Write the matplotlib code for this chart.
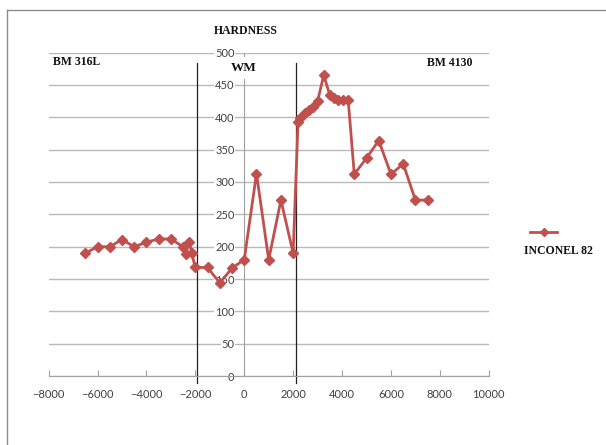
import matplotlib
matplotlib.use("Agg")
import matplotlib.pyplot as plt

# distance (x) vs hardness (y)
distance = [-6500, -6000, -5500, -5000, -4500, -4000, -3500, -3000,
            -2500, -2400, -2250, -2150, -2000, -1500, -1000, -500, 0,
            500, 1000, 1500, 2000, 2200, 2300, 2500, 2650, 2800, 3000,
            3250, 3500, 3650, 3850, 4050, 4250, 4500, 5000, 5500, 6000,
            6500, 7000, 7500]
hardness = [190, 200, 200, 211, 200, 207, 212, 212,
            200, 189, 208, 190, 168, 168, 144, 167, 180,
            313, 180, 272, 190, 393, 399, 406, 411, 416, 425,
            465, 434, 430, 427, 427, 427, 312, 337, 364, 312,
            328, 272, 272]
zone_lines = [-1950, 2100]
x_ticks = list(range(-8000, 10001, 2000))
y_ticks = list(range(0, 501, 50))

red = "#C0504D"
grid_c = "#B9B9B9"
txt_c = "#404040"
serif_bold = dict(family="Liberation Serif", weight="bold", fontsize=8.5, color="#111111")

fig = plt.figure(figsize=(6.06, 4.45), dpi=100, facecolor="white")
ax = fig.add_axes([0.0802, 0.1546, 0.8066 - 0.0802, 0.882 - 0.1546])

# outer chart border (only top and left edges fall inside the picture)
bx, by = 7 / 606, 1 - 10 / 445
fig.lines.append(plt.Line2D([bx, 1.0], [by, by], transform=fig.transFigure,
                            color="#8c8c8c", linewidth=1.0))
fig.lines.append(plt.Line2D([bx, bx], [by, 0.0], transform=fig.transFigure,
                            color="#8c8c8c", linewidth=1.0))

ax.set_xlim(-8000, 10000)
ax.set_ylim(0, 500)
ax.set_xticks(x_ticks)
ax.set_yticks(y_ticks)
ax.yaxis.grid(True, color=grid_c, linewidth=1.0)
ax.set_axisbelow(True)

for s in ("top", "right"):
    ax.spines[s].set_visible(False)
ax.spines["left"].set_position(("data", 0))
ax.spines["left"].set_color("#A0A0A0")
ax.spines["bottom"].set_color("#A0A0A0")

ax.tick_params(axis="x", direction="in", length=4, color="#A0A0A0",
               labelsize=8, labelcolor=txt_c, pad=9)
ax.tick_params(axis="y", direction="in", length=0,
               labelsize=8, labelcolor=txt_c, pad=7)
for lab in ax.get_xticklabels() + ax.get_yticklabels():
    lab.set_family("Lato")
for lab in ax.get_yticklabels():
    lab.set_bbox(dict(facecolor="white", edgecolor="none", pad=0.5))

# zone boundaries
for xv in zone_lines:
    ax.plot([xv, xv], [484, -11], color="#222222", linewidth=0.9,
            clip_on=False, zorder=2)

ax.plot(distance, hardness, color=red, linewidth=2.0, marker="D",
        markersize=5.5, markerfacecolor=red, markeredgecolor=red, zorder=4)

# titles / zone labels
fig.text(245.8 / 606, 1 - 30.7 / 445, "HARDNESS", ha="center", va="center", **serif_bold)
fig.text(53 / 606, 1 - 62 / 445, "BM 316L", ha="left", va="center", **serif_bold)
fig.text(244 / 606, 1 - 68 / 445, "WM", ha="center", va="center", fontsize=9.5,
         family="Liberation Serif", weight="bold", color="#111111",
         bbox=dict(facecolor="white", edgecolor="none", pad=3.5))
fig.text(427 / 606, 1 - 63 / 445, "BM 4130", ha="left", va="center", **serif_bold)

# legend
fig.lines.append(plt.Line2D([530 / 606, 557 / 606], [1 - 232 / 445] * 2,
                            transform=fig.transFigure, color=red, linewidth=2.0))
fig.lines.append(plt.Line2D([543.5 / 606], [1 - 232 / 445], transform=fig.transFigure,
                            marker="D", markersize=4, color=red))
fig.text(558 / 606, 1 - 251.5 / 445, "INCONEL 82", ha="center", va="center", **serif_bold)

fig.savefig("out.png", dpi=100, facecolor="white")
